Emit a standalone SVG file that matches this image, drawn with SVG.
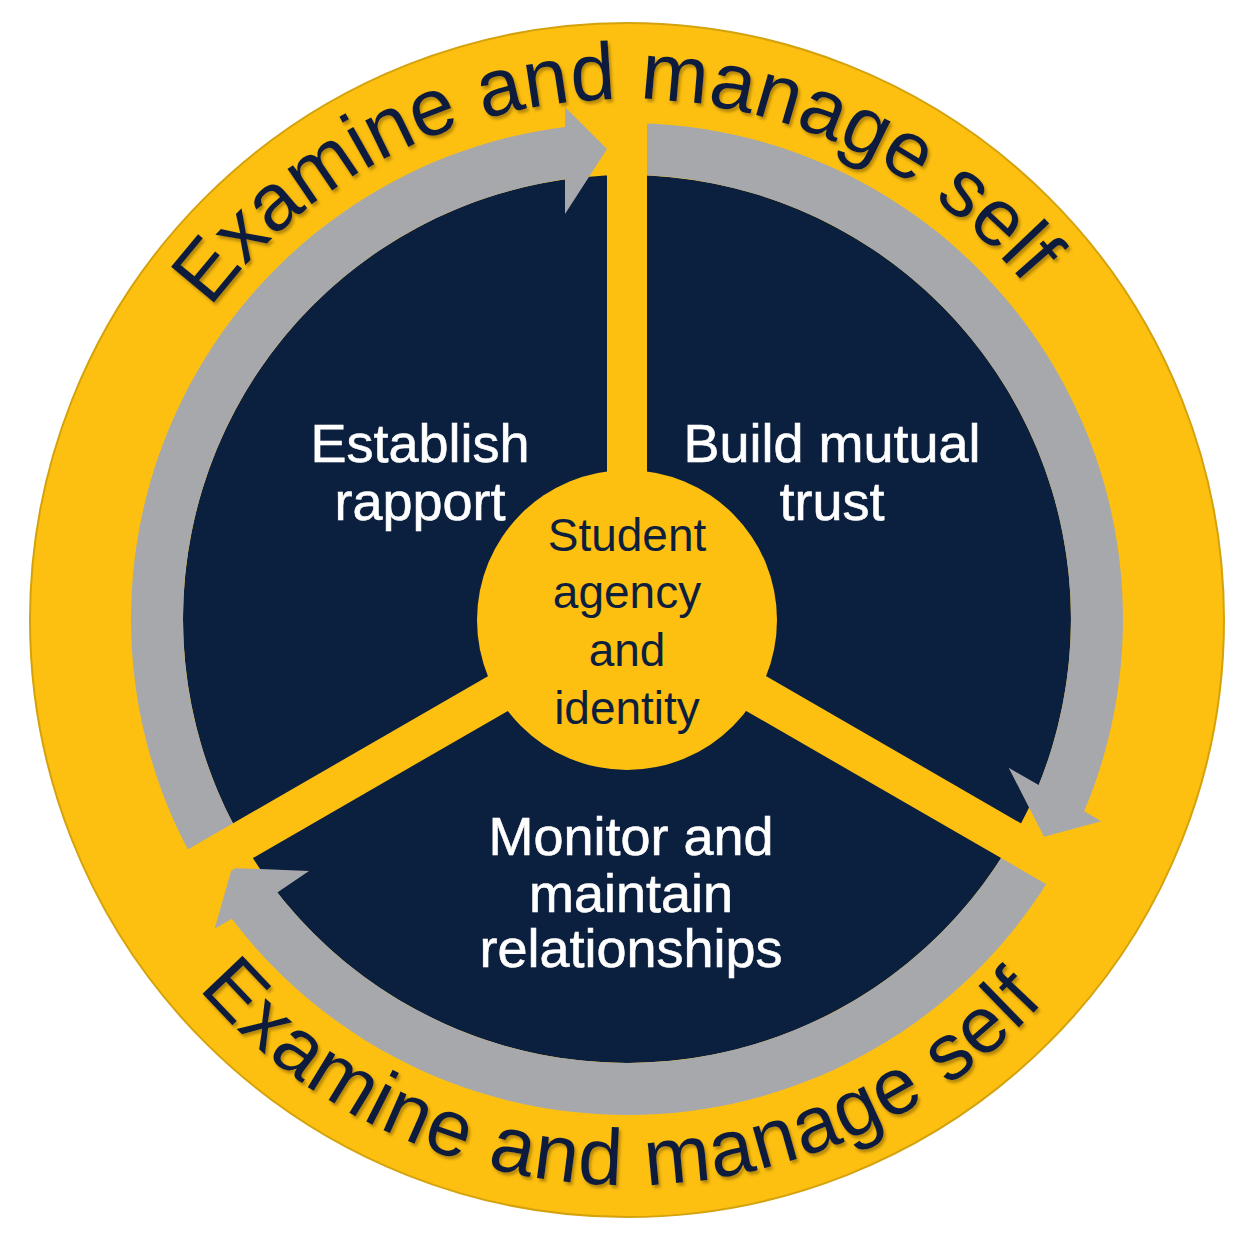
<svg xmlns="http://www.w3.org/2000/svg" xmlns:xlink="http://www.w3.org/1999/xlink" width="1250" height="1250" viewBox="0 0 1250 1250">
  <style>
    .gold { fill: #FDC010; }
    .navy { fill: #0B1F3E; }
    .arrow { fill: #A7A8AC; }
    .spoke { stroke: #FDC010; stroke-width: 40; stroke-linecap: butt; }
    .label { font-family: "Liberation Sans", Arial, sans-serif; fill: #FFFFFF; font-size: 54px; text-anchor: middle; stroke: #FFFFFF; stroke-width: 0.6; }
    .center { font-family: "Liberation Sans", Arial, sans-serif; fill: #0E1F3D; font-size: 46px; text-anchor: middle; }
    .arc-text { font-family: "Liberation Sans", Arial, sans-serif; fill: #0E1F3D; }
  </style>
  <defs>
    <filter id="shadow" x="-10%" y="-10%" width="120%" height="120%">
      <feDropShadow dx="2" dy="3" stdDeviation="1.5" flood-color="#7a5a00" flood-opacity="0.55"/>
    </filter>
    <path id="topArc" d="M 210.3,307.9 A 520 520 0 0 1 1115.6,441.2"/>
    <path id="bottomArc" d="M 136.8,902 A 566 566 0 0 0 1117.2,902"/>
  </defs>

  <g id="background">
    <circle cx="627" cy="620" r="597" class="gold" stroke="#D4A20C" stroke-width="2"/>
    <circle cx="627" cy="619" r="444" class="navy"/>
  </g>

  <g id="connectors">
    <path id="arrow-rapport-to-trust" class="arrow" d="M 197.45,867 A 496 496 0 0 1 565,126.9 L 565,107 L 607,149 L 565,214 L 565,179.35 A 444 444 0 0 0 242.5,841 Z"/>
    <path id="arrow-trust-to-monitor" class="arrow" d="M 627,123 A 496 496 0 0 1 1084.16,811.36 L 1101.4,821.3 L 1044,836.7 L 1008.7,767.8 L 1038.7,785.1 A 444 444 0 0 0 627,175 Z"/>
    <path id="arrow-monitor-to-rapport" class="arrow" d="M 1056.55,867 A 496 496 0 0 1 231.84,918.74 L 214.6,928.7 L 232,868 L 309,871 L 277.3,892.5 A 444 444 0 0 0 1011.5,841 Z"/>
  </g>

  <g id="spokes">
    <line class="spoke" x1="627" y1="619" x2="627" y2="100"/>
    <line class="spoke" x1="627" y1="619" x2="142" y2="899"/>
    <line class="spoke" x1="627" y1="619" x2="1112" y2="899"/>
  </g>

  <g id="node-center">
    <circle cx="627" cy="620" r="150" class="gold"/>
    <text class="center" x="627" y="551">Student</text>
    <text class="center" x="627" y="608">agency</text>
    <text class="center" x="627" y="666">and</text>
    <text class="center" x="627" y="724">identity</text>
  </g>

  <g id="node-establish">
    <text class="label" x="420" y="462">Establish</text>
    <text class="label" x="420" y="520">rapport</text>
  </g>

  <g id="node-trust">
    <text class="label" x="832" y="462">Build mutual</text>
    <text class="label" x="832" y="520">trust</text>
  </g>

  <g id="node-monitor">
    <text class="label" x="631" y="855">Monitor and</text>
    <text class="label" x="631" y="912">maintain</text>
    <text class="label" x="631" y="967">relationships</text>
  </g>

  <g id="node-examine-top" filter="url(#shadow)">
    <text class="arc-text" font-size="81"><textPath href="#topArc" xlink:href="#topArc">Examine and manage self</textPath></text>
  </g>

  <g id="node-examine-bottom" filter="url(#shadow)">
    <text class="arc-text" font-size="80" text-anchor="middle"><textPath href="#bottomArc" xlink:href="#bottomArc" startOffset="584" textLength="955" lengthAdjust="spacing">Examine and manage self</textPath></text>
  </g>
</svg>
